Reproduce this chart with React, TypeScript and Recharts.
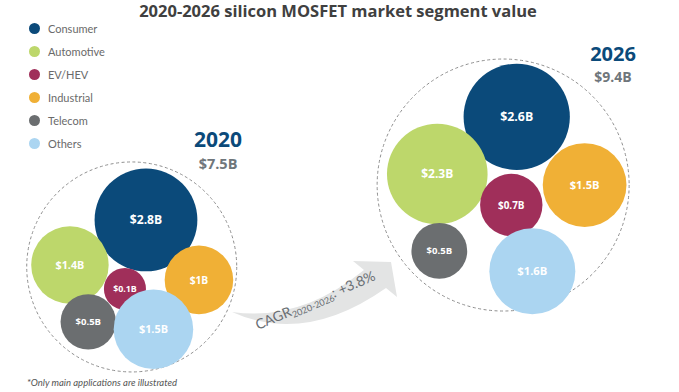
import React from 'react'
import { ScatterChart, Scatter, XAxis, YAxis, ZAxis, Legend, Customized } from 'recharts'

// segments
const CATEGORIES = ['Consumer', 'Automotive', 'EV/HEV', 'Industrial', 'Telecom', 'Others']

// 2020 values ($B) and layout spots in the packed circle (0-100 grid)
const VALUES_2020 = [2.8, 1.4, 0.1, 1.0, 0.5, 1.5]
const LABELS_2020 = ['$2.8B', '$1.4B', '$0.1B', '$1B', '$0.5B', '$1.5B']
const X_2020 = [21.5, 10.3, 18.4, 29.3, 13.0, 22.6]
const Y_2020 = [43.9, 32.4, 26.3, 28.6, 17.9, 16.0]

// 2026
const VALUES_2026 = [2.6, 2.3, 0.7, 1.5, 0.5, 1.6]
const LABELS_2026 = ['$2.6B', '$2.3B', '$0.7B', '$1.5B', '$0.5B', '$1.6B']
const X_2026 = [76.1, 64.4, 75.3, 86.1, 64.7, 78.4]
const Y_2026 = [70.2, 55.6, 47.7, 52.8, 36.0, 30.8]

// totals per year
const YEARS = ['2020', '2026']
const TOTALS = [7.5, 9.4]
const TOTAL_LABELS = ['$7.5B', '$9.4B']
const RING_X = [19.4, 74.1]
const RING_Y = [31.9, 52.8]

const CAGR = '+3.8%'

const COLORS: Record<string, string> = {
  Consumer: '#0b4a7a',
  Automotive: '#bdd76b',
  'EV/HEV': '#a02f5a',
  Industrial: '#f0b036',
  Telecom: '#6b6e70',
  Others: '#abd5f1',
}

const W = 679
const H = 392

const rows2020 = CATEGORIES.map((c, i) => ({ category: c, value: VALUES_2020[i], label: LABELS_2020[i], x: X_2020[i], y: Y_2020[i] }))
const rows2026 = CATEGORIES.map((c, i) => ({ category: c, value: VALUES_2026[i], label: LABELS_2026[i], x: X_2026[i], y: Y_2026[i] }))
const rings = YEARS.map((y, i) => ({ year: y, total: TOTALS[i], x: RING_X[i], y: RING_Y[i] }))

const FONT = '"Open Sans", Lato, sans-serif'

function Bubble(props: any) {
  const { cx, cy, payload } = props
  const r = props.width ? props.width / 2 : Math.sqrt(props.size / Math.PI)
  const fs = Math.max(8.5, 6.5 + r * 0.11)
  return (
    <g>
      <circle cx={cx} cy={cy} r={r} fill={COLORS[payload.category]} />
      <text
        x={cx}
        y={cy}
        dy={fs * 0.36}
        textAnchor="middle"
        fill="#fff"
        fontSize={fs}
        fontWeight={700}
        fontFamily={FONT}
      >
        {payload.label}
      </text>
    </g>
  )
}

function Ring(props: any) {
  const { cx, cy } = props
  const r = props.width ? props.width / 2 : Math.sqrt(props.size / Math.PI)
  return <circle cx={cx} cy={cy} r={r} fill="none" stroke="#8f8f8f" strokeWidth={1} strokeDasharray="3 2.5" />
}

function LegendList() {
  return (
    <div style={{ fontFamily: 'Lato, sans-serif', fontSize: 11, color: '#6a6a6a' }}>
      {CATEGORIES.map((c) => (
        <div key={c} style={{ display: 'flex', alignItems: 'center', height: 23 }}>
          <span
            style={{ width: 11, height: 11, borderRadius: '50%', background: COLORS[c], display: 'inline-block', marginRight: 8 }}
          />
          {c}
        </div>
      ))}
    </div>
  )
}

function Annotations() {
  return (
    <g>
      <text x={338} y={17} textAnchor="middle" fontFamily={FONT} fontWeight={700} fontSize={16.5} fill="#404040">
        2020-2026 silicon MOSFET market segment value
      </text>
      {/* year headers */}
      <text x={218} y={147} textAnchor="middle" fontFamily={FONT} fontWeight={700} fontSize={21} fill="#0b4a7a">
        {YEARS[0]}
      </text>
      <text x={218} y={169} textAnchor="middle" fontFamily={FONT} fontWeight={700} fontSize={14.5} fill="#6f767b">
        {TOTAL_LABELS[0]}
      </text>
      <text x={613} y={61} textAnchor="middle" fontFamily={FONT} fontWeight={700} fontSize={20} fill="#0b4a7a">
        {YEARS[1]}
      </text>
      <text x={613} y={82} textAnchor="middle" fontFamily={FONT} fontWeight={700} fontSize={14} fill="#6f767b">
        {TOTAL_LABELS[1]}
      </text>
      {/* growth arrow */}
      <path
        d="M 232 312 Q 300 322 364 270 L 353 261 L 391 262 L 397 297 L 386 288 Q 305 345 232 312 Z"
        fill="#e3e4e4"
      />
      <text
        x={258}
        y={330}
        transform="rotate(-23 258 330)"
        fontFamily="Lato, sans-serif"
        fontSize={14}
        fill="#6a6f74"
      >
        CAGR
        <tspan fontSize={9} dy={3}>2020-2026</tspan>
        <tspan dy={-3}>: {CAGR}</tspan>
      </text>
      <text x={27} y={386} fontFamily="Lato, sans-serif" fontStyle="italic" fontSize={9.5} fill="#555">
        *Only main applications are illustrated
      </text>
    </g>
  )
}

export default function App() {
  return (
    <div style={{ position: 'absolute', left: 0, top: 0, width: W, height: H, background: '#fff' }}>
      <ScatterChart width={W} height={H} margin={{ top: 0, right: 0, bottom: 0, left: 0 }}>
        <XAxis type="number" dataKey="x" domain={[0, 100]} hide />
        <YAxis type="number" dataKey="y" domain={[0, 100]} hide />
        <ZAxis zAxisId="ring" type="number" dataKey="total" domain={[7.5, 9.4]} range={[34636, 49876]} />
        <ZAxis zAxisId="y2020" type="number" dataKey="value" domain={[0, 3]} range={[1132, 8809]} />
        <ZAxis zAxisId="y2026" type="number" dataKey="value" domain={[0, 3]} range={[915, 10092]} />
        <Legend
          layout="vertical"
          align="center"
          verticalAlign="middle"
          content={() => <LegendList />}
          wrapperStyle={{ left: 29, top: 17, width: 120 }}
        />
        <Scatter name="Total" data={rings} zAxisId="ring" shape={Ring} isAnimationActive={false} legendType="none" />
        <Scatter name="2020" data={rows2020} zAxisId="y2020" shape={Bubble} isAnimationActive={false} />
        <Scatter name="2026" data={rows2026} zAxisId="y2026" shape={Bubble} isAnimationActive={false} />
        <Customized component={Annotations} />
      </ScatterChart>
    </div>
  )
}
